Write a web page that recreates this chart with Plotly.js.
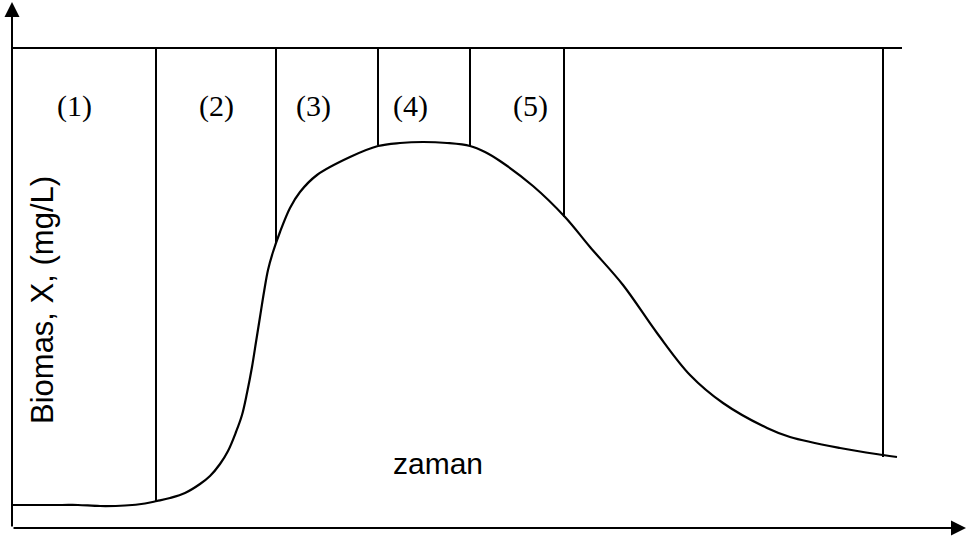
<!DOCTYPE html>
<html>
<head>
<meta charset="utf-8">
<script src="https://cdn.plot.ly/plotly-3.0.1.min.js"></script>
<style>html,body{margin:0;padding:0;background:#fff;}#chart{width:967px;height:542px;}</style>
</head>
<body>
<div id="chart"></div>
<script>
// Growth curve (time units, biomass units)
var timeVals = [0,50,66,88,113,133,145,158,173,188,198,208,216,224,230,235,240,244,248,252,256,261,268,278,288,305,338,366,388,411,435,458,473,488,521,553,578,611,645,678,711,755,778,828,871,885];
var biomassVals = [23,23,23,22,22.5,24.5,27,30,35,44,52,64,77,96,113,135,161,186,211,236,258,276,296,320,336,353,371,382,385,386,385,382,376,367,342,311,281,243,195,153,125,100,91,80,73,71];

// Phase boundaries and their lower ends on the curve
var boundaryTimes = [144,264,366,458,552,871];
var boundaryBottoms = [26,285,383,382,311,71];
var topLevel = 480;
var topEnd = 890;

// Phase labels
var phaseLabels = ["(1)","(2)","(3)","(4)","(5)"];
var phaseLabelTimes = [62,204,301,398,518];
var phaseLabelLevel = 422;

var axisTimeEnd = 954;
var axisBiomassEnd = 526;

var shapes = [];
shapes.push({type:'line', xref:'x', yref:'y', x0:0, x1:topEnd, y0:topLevel, y1:topLevel, line:{color:'#000', width:2}});
for (var i=0;i<boundaryTimes.length;i++){
  shapes.push({type:'line', xref:'x', yref:'y', x0:boundaryTimes[i], x1:boundaryTimes[i], y0:topLevel, y1:boundaryBottoms[i], line:{color:'#000', width:2}});
}

var annotations = [];
for (var j=0;j<phaseLabels.length;j++){
  annotations.push({x:phaseLabelTimes[j], y:phaseLabelLevel, xref:'x', yref:'y', text:phaseLabels[j], showarrow:false,
    font:{family:'Liberation Serif, Times New Roman, serif', size:30, color:'#000'}});
}
// axes with arrows
annotations.push({x:0, y:axisBiomassEnd, ax:0, ay:0, xref:'x', yref:'y', axref:'x', ayref:'y', text:'', showarrow:true,
  arrowhead:2, arrowsize:1.5, arrowwidth:2, arrowcolor:'#000', standoff:0, startstandoff:0});
annotations.push({x:axisTimeEnd, y:0, ax:0, ay:0, xref:'x', yref:'y', axref:'x', ayref:'y', text:'', showarrow:true,
  arrowhead:2, arrowsize:1.5, arrowwidth:2, arrowcolor:'#000', standoff:0, startstandoff:0});
// axis titles as text
annotations.push({x:426, y:65, xref:'x', yref:'y', text:'zaman', showarrow:false,
  font:{family:'Liberation Sans, Arial, sans-serif', size:30, color:'#000'}});
annotations.push({x:30, y:228, xref:'x', yref:'y', text:'Biomas, X, (mg/L)', showarrow:false, textangle:-90,
  font:{family:'Liberation Sans, Arial, sans-serif', size:31, color:'#000'}});

var trace = {x:timeVals, y:biomassVals, type:'scatter', mode:'lines',
  line:{color:'#000', width:2.2, shape:'spline', smoothing:1}, hoverinfo:'none'};

var layout = {
  width:967, height:542,
  margin:{l:0,r:0,t:0,b:0},
  paper_bgcolor:'#fff', plot_bgcolor:'#fff',
  showlegend:false,
  xaxis:{range:[-12,955], visible:false, fixedrange:true},
  yaxis:{range:[-14,528], visible:false, fixedrange:true},
  shapes:shapes,
  annotations:annotations
};
Plotly.newPlot('chart',[trace],layout,{staticPlot:true, displayModeBar:false});
</script>
</body>
</html>
